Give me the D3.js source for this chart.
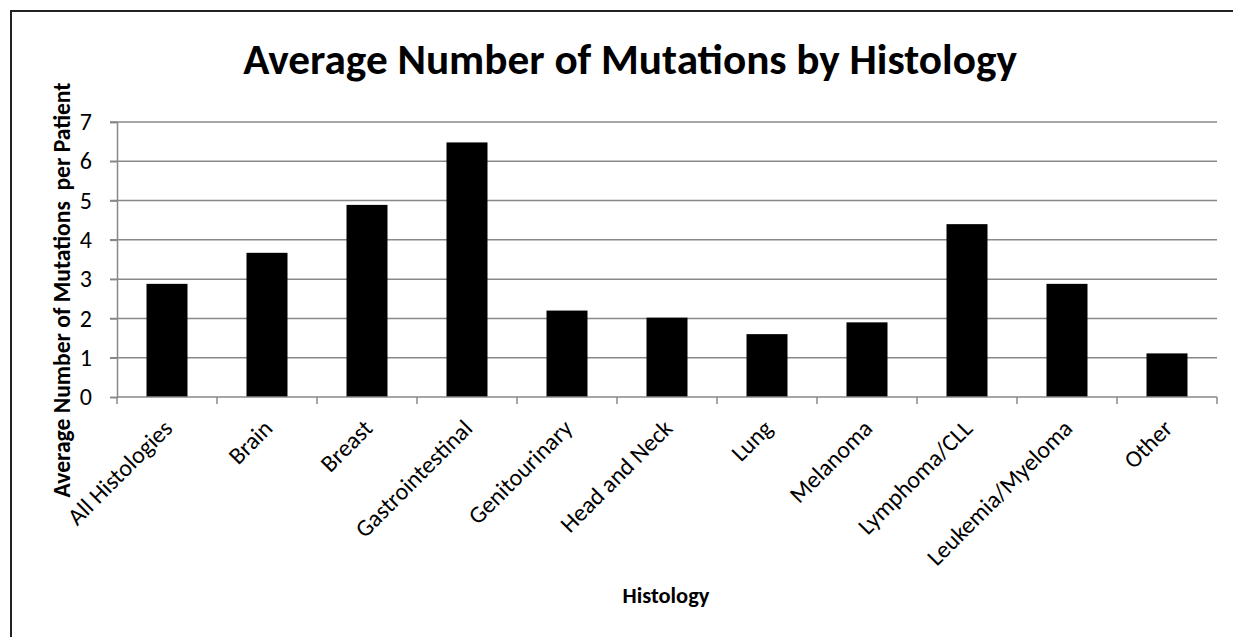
<!DOCTYPE html>
<html>
<head>
<meta charset="utf-8">
<script src="https://cdn.jsdelivr.net/npm/d3@7"></script>
<style>
  body { margin: 0; background: #fff; }
  svg { display: block; }
  text { font-family: Carlito, "Open Sans", sans-serif; fill: #000; }
</style>
</head>
<body>
<script>
var categories = ["All Histologies", "Brain", "Breast", "Gastrointestinal", "Genitourinary",
  "Head and Neck", "Lung", "Melanoma", "Lymphoma/CLL", "Leukemia/Myeloma", "Other"];
var values = [2.88, 3.67, 4.89, 6.48, 2.2, 2.02, 1.6, 1.9, 4.4, 2.88, 1.11];
var yTicks = [0, 1, 2, 3, 4, 5, 6, 7];

var width = 1233, height = 637;
var margin = {left: 117, right: 16, top: 122, bottom: 240};

var svg = d3.select("body").append("svg")
    .attr("width", width)
    .attr("height", height);

// chart frame, only top and left edges are visible
svg.append("rect")
    .attr("x", 11).attr("y", 11)
    .attr("width", width + 20).attr("height", height + 20)
    .attr("fill", "none")
    .attr("stroke", "#222")
    .attr("stroke-width", 2);

var x = d3.scaleBand()
    .domain(categories)
    .range([margin.left, width - margin.right])
    .paddingInner(0.59)
    .paddingOuter(0.295);

var y = d3.scaleLinear()
    .domain([0, 7])
    .range([height - margin.bottom, margin.top]);

// gridlines
svg.append("g")
    .selectAll("line")
    .data(yTicks.slice(1))
    .enter().append("line")
    .attr("x1", margin.left - 7)
    .attr("x2", width - margin.right)
    .attr("y1", function (d) { return y(d); })
    .attr("y2", function (d) { return y(d); })
    .attr("stroke", "#888")
    .attr("stroke-width", 1.5);

// bars
svg.append("g")
    .selectAll("rect")
    .data(values)
    .enter().append("rect")
    .attr("x", function (d, i) { return x(categories[i]); })
    .attr("y", function (d) { return y(d); })
    .attr("width", x.bandwidth())
    .attr("height", function (d) { return y(0) - y(d); })
    .attr("fill", "#000");

// y axis
var yAxis = svg.append("g")
    .attr("transform", "translate(" + margin.left + ",0)")
    .call(d3.axisLeft(y).tickValues(yTicks).tickSize(7).tickPadding(18).tickFormat(d3.format("d")));
yAxis.select(".domain").attr("stroke", "#888").attr("stroke-width", 1.5);
yAxis.selectAll(".tick line").attr("stroke", "#888").attr("stroke-width", 1.5);
yAxis.selectAll(".tick text")
    .style("font-size", "24px")
    .attr("fill", "#000");

// x axis with ticks at category boundaries
var xEdges = categories.map(function (c, i) { return margin.left + i * x.step(); });
xEdges.push(width - margin.right);
var xg = svg.append("g");
xg.append("line")
    .attr("x1", margin.left).attr("x2", width - margin.right)
    .attr("y1", y(0)).attr("y2", y(0))
    .attr("stroke", "#888").attr("stroke-width", 1.5);
xg.selectAll("line.tk")
    .data(xEdges)
    .enter().append("line")
    .attr("class", "tk")
    .attr("x1", function (d) { return d; })
    .attr("x2", function (d) { return d; })
    .attr("y1", y(0))
    .attr("y2", y(0) + 7)
    .attr("stroke", "#888").attr("stroke-width", 1.5);

xg.selectAll("text")
    .data(categories)
    .enter().append("text")
    .attr("transform", function (d) {
        return "translate(" + (x(d) + x.bandwidth() / 2 - 5) + "," + (y(0) + 21) + ") rotate(-45)";
    })
    .attr("text-anchor", "end")
    .attr("dy", "0.7em")
    .style("font-size", "24px")
    .text(function (d) { return d; });

// title
var title = svg.append("text")
    .attr("x", 630)
    .attr("y", 74)
    .attr("text-anchor", "middle")
    .style("font-weight", "bold")
    .style("font-size", "38px")
    .text("Average Number of Mutations by Histology");
var tw = title.node().getComputedTextLength();
title.style("font-size", (38 * 774 / tw) + "px");

// axis titles
var yTitle = svg.append("text")
    .attr("transform", "translate(70,290) rotate(-90)")
    .attr("text-anchor", "middle")
    .style("font-weight", "bold")
    .style("font-size", "17px")
    .style("white-space", "pre")
    .text("Average Number of Mutations  per Patient");
var yw = yTitle.node().getComputedTextLength();
yTitle.style("font-size", (17 * 415 / yw) + "px");

var xTitle = svg.append("text")
    .attr("x", 666)
    .attr("y", 603)
    .attr("text-anchor", "middle")
    .style("font-weight", "bold")
    .style("font-size", "18px")
    .text("Histology");
var xw = xTitle.node().getComputedTextLength();
xTitle.style("font-size", (18 * 87 / xw) + "px");
</script>
</body>
</html>
